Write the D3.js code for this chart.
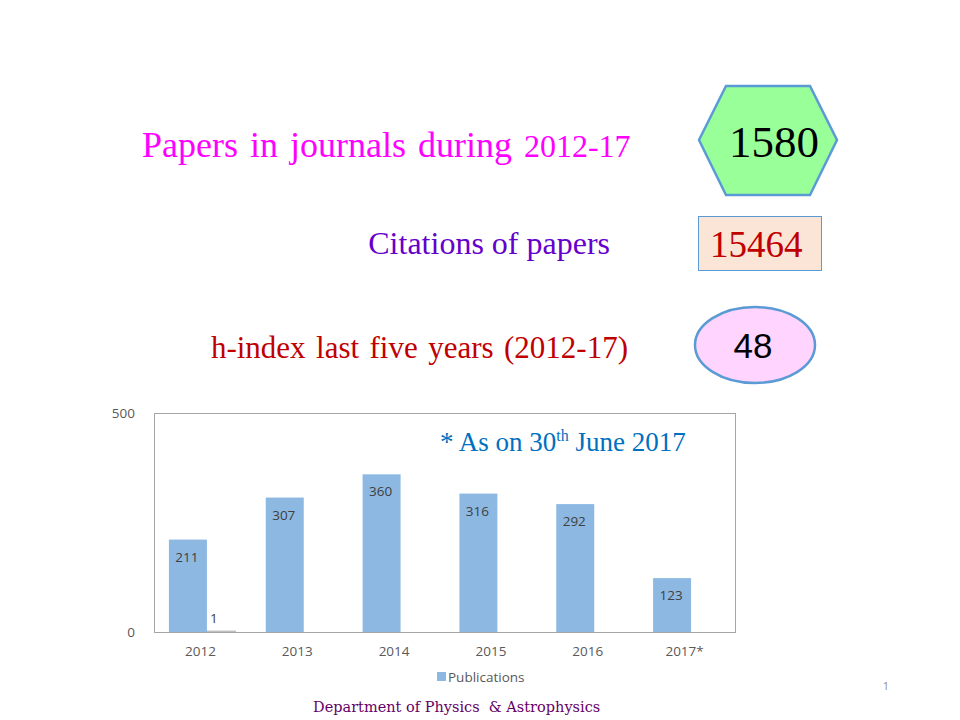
<!DOCTYPE html>
<html>
<head>
<meta charset="utf-8">
<script src="https://cdn.jsdelivr.net/npm/d3@7"></script>
<style>
  html, body { margin: 0; padding: 0; background: #fff; }
  svg { display: block; }
</style>
</head>
<body>
<svg id="chart" width="960" height="720"></svg>
<script>
// ---- data ----
const categories = ["2012", "2013", "2014", "2015", "2016", "2017*"];
const publications = [211, 307, 360, 316, 292, 123];
const secondSeries = [1, null, null, null, null, null];
const yTicks = [0, 500];
const seriesName = "Publications";
const headlineLabels = ["Papers in journals during ", "2012-17"];
const citationsLabel = "Citations of papers";
const hindexLabel = "h-index last five years (2012-17)";
const totalPapers = 1580;
const totalCitations = 15464;
const hIndex = 48;
const footnote = ["* As on 30", "th", " June 2017"];
const footer = "Department of Physics  & Astrophysics";
const pageNumber = "1";

const svg = d3.select("#chart");
const serif = "'Liberation Serif', 'Times New Roman', serif";
const sans = "'Liberation Sans', Arial, sans-serif";
const chartFont = "'Open Sans', 'Liberation Sans', sans-serif";

// ---- headline texts ----
const t1 = svg.append("text").attr("x", 142).attr("y", 157)
  .attr("font-family", serif).attr("fill", "#FF00FF").attr("word-spacing", 3);
t1.append("tspan").attr("font-size", 36).text(headlineLabels[0]);
t1.append("tspan").attr("font-size", 32).text(headlineLabels[1]);

svg.append("text").attr("x", 610).attr("y", 254).attr("text-anchor", "end")
  .attr("font-family", serif).attr("font-size", 32).attr("fill", "#6600CC")
  .text(citationsLabel);

svg.append("text").attr("x", 628).attr("y", 358).attr("text-anchor", "end")
  .attr("font-family", serif).attr("font-size", 31).attr("fill", "#C00000")
  .attr("word-spacing", 2.7)
  .text(hindexLabel);

// ---- hexagon ----
const hex = [[699,140],[726,86],[810,86],[837,140],[810,195],[726,195]];
svg.append("polygon").attr("points", hex.map(p => p.join(",")).join(" "))
  .attr("fill", "#99FF99").attr("stroke", "#5B9BD5").attr("stroke-width", 2.5);
svg.append("text").attr("x", 774).attr("y", 157).attr("text-anchor", "middle")
  .attr("font-family", serif).attr("font-size", 45).attr("fill", "#000")
  .text(totalPapers);

// ---- rectangle ----
svg.append("rect").attr("x", 698.5).attr("y", 216.5).attr("width", 123).attr("height", 54)
  .attr("fill", "#FBE5D6").attr("stroke", "#5B9BD5").attr("stroke-width", 1);
svg.append("text").attr("x", 710).attr("y", 257)
  .attr("font-family", serif).attr("font-size", 37).attr("fill", "#C00000")
  .text(totalCitations);

// ---- ellipse ----
svg.append("ellipse").attr("cx", 755).attr("cy", 345).attr("rx", 60).attr("ry", 38)
  .attr("fill", "#FFD5FF").attr("stroke", "#5B9BD5").attr("stroke-width", 2.5);
svg.append("text").attr("x", 753).attr("y", 358).attr("text-anchor", "middle")
  .attr("font-family", sans).attr("font-size", 35).attr("fill", "#000")
  .text(hIndex);

// ---- bar chart ----
const plot = { left: 154, right: 735, top: 413, bottom: 632 };
const x = d3.scaleBand().domain(categories).range([plot.left, plot.right]).padding(0);
const y = d3.scaleLinear().domain([0, 500]).range([plot.bottom, plot.top]);
const barW = 38;
const off1 = -33.5, off2 = -4.5;
const labelSize = 13.5;

// frame
svg.append("rect").attr("x", plot.left + 0.5).attr("y", plot.top + 0.5)
  .attr("width", plot.right - plot.left).attr("height", plot.bottom - plot.top)
  .attr("fill", "none").attr("stroke", "#A6A6A6").attr("stroke-width", 1);

// second series (tiny gray bar)
svg.append("g").selectAll("rect").data(categories.map((c, i) => ({ c, v: secondSeries[i] })).filter(d => d.v != null))
  .join("rect")
  .attr("x", d => x(d.c) + x.bandwidth() / 2 + off2)
  .attr("width", barW)
  .attr("y", d => y(d.v) - 1)
  .attr("height", d => Math.max(2, plot.bottom - y(d.v) + 1))
  .attr("fill", "#BFBFBF");

// publications bars
svg.append("g").selectAll("rect").data(categories.map((c, i) => ({ c, v: publications[i] })))
  .join("rect")
  .attr("x", d => x(d.c) + x.bandwidth() / 2 + off1)
  .attr("width", barW)
  .attr("y", d => y(d.v))
  .attr("height", d => plot.bottom - y(d.v))
  .attr("fill", "#8DB8E2");

// bar labels
svg.append("g").selectAll("text").data(categories.map((c, i) => ({ c, v: publications[i] })))
  .join("text")
  .attr("x", d => x(d.c) + x.bandwidth() / 2 + off1 + barW / 2 - 1)
  .attr("y", d => y(d.v) + 22)
  .attr("text-anchor", "middle")
  .attr("font-family", chartFont).attr("font-size", labelSize).attr("fill", "#404040")
  .text(d => d.v);

svg.append("g").selectAll("text").data(categories.map((c, i) => ({ c, v: secondSeries[i] })).filter(d => d.v != null))
  .join("text")
  .attr("x", d => x(d.c) + x.bandwidth() / 2 + off2 + barW / 2 - 3)
  .attr("y", d => y(d.v) - 9)
  .attr("text-anchor", "middle")
  .attr("font-family", chartFont).attr("font-size", labelSize).attr("fill", "#404040")
  .text(d => d.v);

// y axis labels (no ticks)
const yAxis = d3.axisLeft(y).tickValues(yTicks).tickSize(0).tickPadding(19);
const gy = svg.append("g").attr("transform", `translate(${plot.left},0)`).call(yAxis);
gy.select(".domain").remove();
gy.selectAll("text").attr("font-family", chartFont).attr("font-size", labelSize).attr("fill", "#595959");

// x axis labels
const xAxis = d3.axisBottom(x).tickSize(0).tickPadding(14);
const gx = svg.append("g").attr("transform", `translate(0,${plot.bottom})`).call(xAxis);
gx.select(".domain").attr("stroke", "#A6A6A6");
gx.selectAll("text").attr("font-family", chartFont).attr("font-size", labelSize).attr("fill", "#595959")
  .attr("dx", -2);

// footnote annotation
const fn = svg.append("text").attr("x", 440).attr("y", 451)
  .attr("font-family", serif).attr("font-size", 27).attr("fill", "#0070C0");
fn.append("tspan").text(footnote[0]);
fn.append("tspan").attr("font-size", 16).attr("dy", -10).text(footnote[1]);
fn.append("tspan").attr("dy", 10).text(footnote[2]);

// legend
svg.append("rect").attr("x", 437).attr("y", 672).attr("width", 9).attr("height", 9).attr("fill", "#8DB8E2");
svg.append("text").attr("x", 448).attr("y", 682)
  .attr("font-family", chartFont).attr("font-size", labelSize).attr("fill", "#595959")
  .text(seriesName);

// footer
svg.append("text").attr("x", 313).attr("y", 712)
  .attr("font-family", "'DejaVu Serif', serif").attr("font-size", 14.5).attr("fill", "#660066")
  .attr("xml:space", "preserve")
  .text(footer);

// page number
svg.append("text").attr("x", 889).attr("y", 690).attr("text-anchor", "end")
  .attr("font-family", chartFont).attr("font-size", 11).attr("fill", "#8C8C8C")
  .text(pageNumber);
</script>
</body>
</html>
